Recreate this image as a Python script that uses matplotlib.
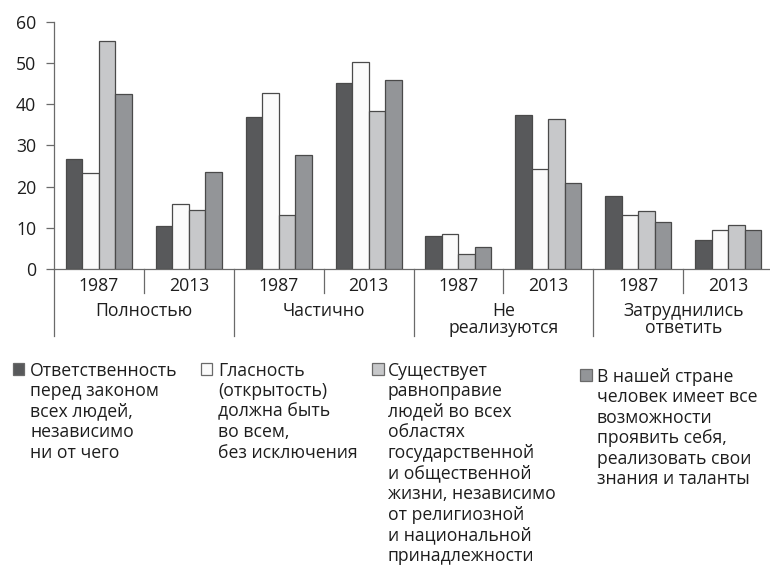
import matplotlib
matplotlib.use('Agg')
import matplotlib.pyplot as plt
from matplotlib.patches import Rectangle
import matplotlib.transforms as mtransforms

plt.rcParams['font.family'] = ['Open Sans', 'DejaVu Sans']

# ---------------- data ----------------
categories = ['Полностью', 'Частично', 'Не\nреализуются', 'Затруднились\nответить']
years = ['1987', '2013']
series_labels = [
    'Ответственность\nперед законом\nвсех людей,\nнезависимо\nни от чего',
    'Гласность\n(открытость)\nдолжна быть\nво всем,\nбез исключения',
    'Существует\nравноправие\nлюдей во всех\nобластях\nгосударственной\nи общественной\nжизни, независимо\nот религиозной\nи национальной\nпринадлежности',
    'В нашей стране\nчеловек имеет все\nвозможности\nпроявить себя,\nреализовать свои\nзнания и таланты',
]
s1 = [26.7, 10.5, 36.9, 45.2, 8.0, 37.3, 17.7, 7.1]
s2 = [23.4, 15.7, 42.7, 50.3, 8.5, 24.2, 13.2, 9.5]
s3 = [55.5, 14.4, 13.2, 38.3, 3.6, 36.4, 14.0, 10.8]
s4 = [42.4, 23.5, 27.8, 45.9, 5.4, 20.8, 11.4, 9.5]
series = [s1, s2, s3, s4]
yticks = [0, 10, 20, 30, 40, 50, 60]

# ---------------- style ----------------
colors = ['#58595b', '#fbfbfb', '#c7c8ca', '#939598']
edge = '#4a4a4a'
axcol = '#6a6a6a'
txtcol = '#1e1e1e'
fs = 12.7
W, H = 770, 567

def fx(p):
    return p / W

def fy(p):
    return 1 - p / H

fig = plt.figure(figsize=(W / 100, H / 100), dpi=100)
ax = fig.add_axes([fx(54), fy(269), 719 / W, 247 / H])

n = len(s1)
bw = 0.1835
for j, vals in enumerate(series):
    xs = [i + 0.5 + (j - 1.5) * bw for i in range(n)]
    ax.bar(xs, vals, bw, color=colors[j], edgecolor=edge, linewidth=0.9, zorder=3)

ax.set_xlim(0, n)
ax.set_ylim(0, 60)
ax.set_xticks([])
ax.set_yticks(yticks)
ax.tick_params(axis='y', length=5.8, width=0.9, color=axcol, pad=7,
               labelsize=fs, labelcolor=txtcol)
for s in ['top', 'right']:
    ax.spines[s].set_visible(False)
for s in ['left', 'bottom']:
    ax.spines[s].set_color(axcol)
    ax.spines[s].set_linewidth(0.9)

blend = mtransforms.blended_transform_factory(ax.transData, fig.transFigure)

# separators
for k in range(0, n + 1):
    y2 = 336 if k % 2 == 0 else 293
    ax.plot([k, k], [fy(269), fy(y2)], transform=blend, color=axcol,
            lw=0.9, clip_on=False)

# year labels
for i in range(n):
    ax.text(i + 0.5, fy(291), years[i % 2], transform=blend, ha='center',
            va='baseline', fontsize=fs, color=txtcol)

# category labels (line by line)
cat_ls = 16.2
for c, cat in enumerate(categories):
    for li, line in enumerate(cat.split('\n')):
        ax.text(2 * c + 1, fy(316.5 + li * cat_ls), line, transform=blend,
                ha='center', va='baseline', fontsize=fs, color=txtcol)

# legend (manual)
sq_x = [13, 201, 372, 580]
tx_x = [30, 218, 388, 597]
y_off = [0, 0, 0, 6]
leg_ls = 20.6
for j in range(4):
    top = 363 + y_off[j]
    fig.patches.append(Rectangle((fx(sq_x[j]), fy(top + 11.5)), 11.5 / W, 11.5 / H,
                                 transform=fig.transFigure, facecolor=colors[j],
                                 edgecolor='#6a6a6a', linewidth=0.9))
    for li, line in enumerate(series_labels[j].split('\n')):
        fig.text(fx(tx_x[j]), fy(375.5 + y_off[j] + li * leg_ls), line, ha='left',
                 va='baseline', fontsize=fs, color=txtcol)

fig.savefig('out.png', dpi=100)
